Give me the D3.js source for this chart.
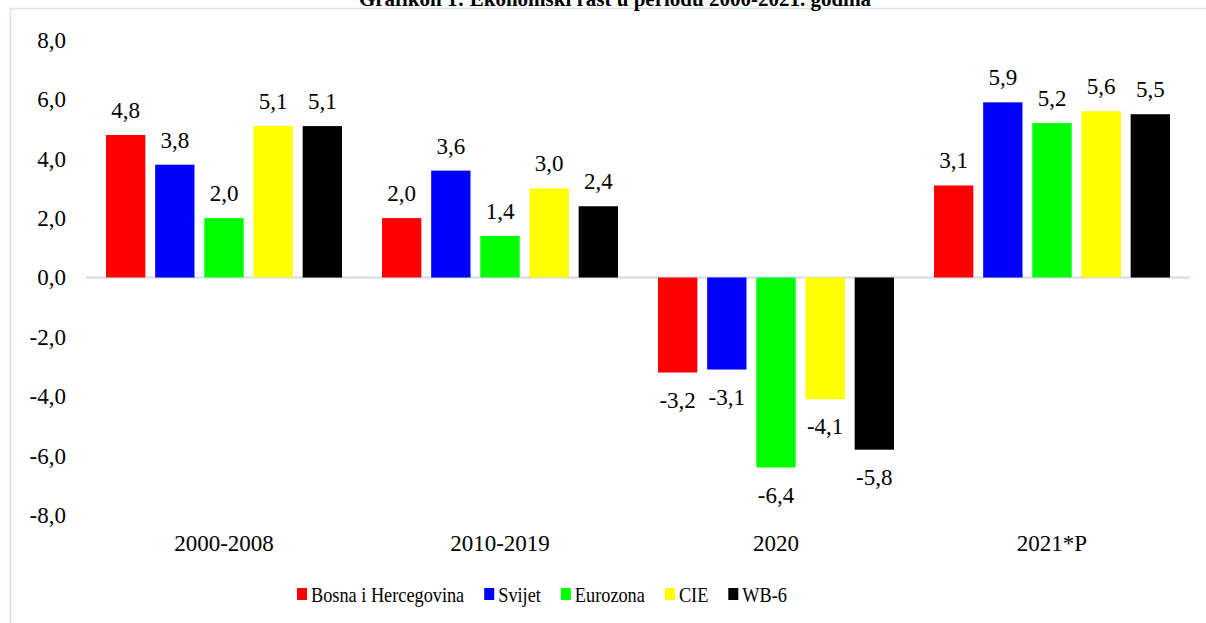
<!DOCTYPE html>
<html>
<head>
<meta charset="utf-8">
<script src="https://cdn.jsdelivr.net/npm/d3@7"></script>
<style>
  body { margin: 0; background: #fff; }
  svg text { font-family: "Liberation Serif", "Times New Roman", serif !important; fill: #000; }
</style>
</head>
<body>
<svg width="1206" height="623"></svg>
<script>
const categories = ["2000-2008", "2010-2019", "2020", "2021*P"];
const seriesNames = ["Bosna i Hercegovina", "Svijet", "Eurozona", "CIE", "WB-6"];
const seriesColors = ["#ff0000", "#0000ff", "#00ff00", "#ffff00", "#000000"];
const bih = [4.8, 2.0, -3.2, 3.1];
const svijet = [3.8, 3.6, -3.1, 5.9];
const eurozona = [2.0, 1.4, -6.4, 5.2];
const cie = [5.1, 3.0, -4.1, 5.6];
const wb6 = [5.1, 2.4, -5.8, 5.5];
const yTicks = [-8, -6, -4, -2, 0, 2, 4, 6, 8];
const title = "Grafikon 1: Ekonomski rast u periodu 2000-2021. godina";

const seriesValues = [bih, svijet, eurozona, cie, wb6];

const svg = d3.select("svg");
const width = +svg.attr("width");
const height = +svg.attr("height");
const serif = "'Liberation Serif', 'Times New Roman', serif";

const fmt = v => d3.format(".1f")(v).replace(".", ",").replace("−", "-");

// okvir
svg.append("path")
  .attr("d", `M10.5 ${height} V8.5 H${width}`)
  .attr("fill", "none")
  .attr("stroke", "#d5e1f1")
  .attr("stroke-width", 1.5);

// naslov (odsjecen na vrhu kao u originalu)
svg.append("text")
  .attr("x", 615)
  .attr("y", 6)
  .attr("text-anchor", "middle")
  .attr("font-weight", "bold")
  .attr("font-size", 21)
  .style("font-family", serif)
  .text(title);

const x0 = d3.scaleBand().domain(categories).range([86, 1190]);
const x1 = d3.scaleBand().domain(seriesNames).range([20, 256]).paddingInner(0.2);
const y = d3.scaleLinear().domain([-8, 8]).range([515, 40]);

// y os
const yAxis = svg.append("g")
  .attr("transform", "translate(66,0)")
  .call(d3.axisLeft(y).tickValues(yTicks).tickSize(0).tickPadding(0).tickFormat(fmt));
yAxis.attr("font-family", null);
yAxis.select(".domain").remove();
yAxis.selectAll("text")
  .attr("font-size", 23)
  .style("font-family", serif)
  .attr("fill", "#000");

// nulta linija
svg.append("line")
  .attr("x1", 86).attr("x2", 1190)
  .attr("y1", y(0)).attr("y2", y(0))
  .attr("stroke", "#cfdcec")
  .attr("stroke-width", 2);

// stupci
const groups = svg.selectAll(".cat")
  .data(categories)
  .enter().append("g")
  .attr("class", "cat")
  .attr("transform", d => `translate(${x0(d)},0)`);

groups.each(function(cat, ci) {
  const g = d3.select(this);
  seriesNames.forEach((s, si) => {
    const v = seriesValues[si][ci];
    g.append("rect")
      .attr("x", x1(s))
      .attr("width", x1.bandwidth())
      .attr("y", Math.min(y(v), y(0)))
      .attr("height", Math.abs(y(v) - y(0)))
      .attr("fill", seriesColors[si]);
    g.append("text")
      .attr("x", x1(s) + x1.bandwidth() / 2)
      .attr("y", v >= 0 ? y(v) - 17 : y(v) + 35)
      .attr("text-anchor", "middle")
      .attr("font-size", 23)
      .style("font-family", serif)
      .text(fmt(v));
  });
});

// kategorije
svg.selectAll(".catlabel")
  .data(categories)
  .enter().append("text")
  .attr("class", "catlabel")
  .attr("x", d => x0(d) + x0.bandwidth() / 2)
  .attr("y", 551)
  .attr("text-anchor", "middle")
  .attr("font-size", 23)
  .style("font-family", serif)
  .text(d => d);

// legenda (tekst malo stisnut po sirini kao u originalu)
const legend = svg.append("g");
let lx = 297;
seriesNames.forEach((s, i) => {
  legend.append("rect")
    .attr("x", lx).attr("y", 588)
    .attr("width", 10).attr("height", 12)
    .attr("fill", seriesColors[i]);
  const t = legend.append("text")
    .attr("x", lx + 14).attr("y", 602)
    .attr("font-size", 21)
    .style("font-family", serif)
    .text(s);
  const w = t.node().getComputedTextLength() * 0.87;
  t.attr("textLength", w).attr("lengthAdjust", "spacingAndGlyphs");
  lx += 14 + w + 20;
});
</script>
</body>
</html>
